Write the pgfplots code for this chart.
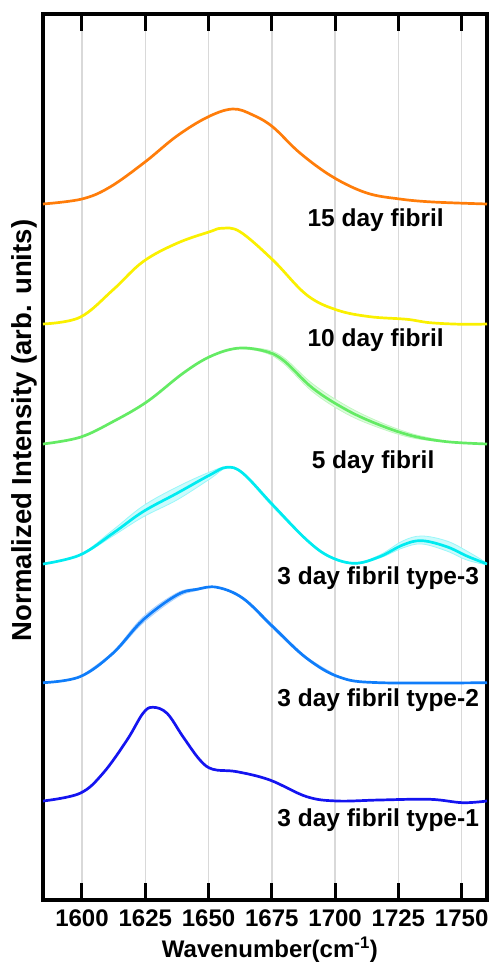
\documentclass[border=0pt]{standalone}
\usepackage{pgfplots}
\pgfplotsset{compat=1.18}
\usepackage{fontspec}
\setmainfont{Liberation Sans}
\definecolor{corange}{RGB}{255,125,10}
\definecolor{cyellow}{RGB}{250,240,0}
\definecolor{cgreen}{RGB}{100,235,100}
\definecolor{ccyan}{RGB}{0,235,240}
\definecolor{cblue}{RGB}{15,125,250}
\definecolor{cdblue}{RGB}{20,20,240}
\newcommand{\tl}[1]{\fontsize{24}{24}\selectfont\bfseries #1}
\begin{document}
\begin{tikzpicture}
\begin{axis}[
  at={(0,0)}, anchor=south west,
  scale only axis, width=444pt, height=886pt,
  xmin=1584.6, xmax=1760, ymin=0, ymax=886,
  xtick={1600,1625,1650,1675,1700,1725,1750},
  xticklabels={{\tl{1600}},{\tl{1625}},{\tl{1650}},{\tl{1675}},{\tl{1700}},{\tl{1725}},{\tl{1750}}},
  ytick=\empty,
  xtick pos=both, tick align=inside,
  major tick length=17pt,
  every tick/.style={black, line width=3pt},
  axis line style={line width=4pt},
  xmajorgrids, grid style={black!15, line width=1.4pt},
  xticklabel style={anchor=center, yshift=-18pt},
  xlabel={Wavenumber(cm\textsuperscript{-1})},
  xlabel style={font=\bfseries\fontsize{24}{24}\selectfont, at={(axis description cs:0.511,0)}, anchor=center, yshift=-50pt},
  ylabel={Normalized Intensity (arb. units)},
  ylabel style={font=\bfseries\fontsize{27.5}{27.5}\selectfont, at={(axis description cs:-0.041,0.53)}, anchor=center},
  every axis plot/.append style={line width=2.7pt, smooth, tension=0.6},
  clip=true,
]
% 15 day
\addplot[corange] coordinates {(1584.6,696) (1600,701) (1611.1,713) (1624.9,738) (1637.5,764) (1649.7,783) (1659.6,791) (1667.5,785) (1675.4,773) (1686.1,747) (1699.1,723) (1712.5,707) (1725.5,701) (1738.6,698) (1760,696)};
% 10 day
\addplot[cyellow] coordinates {(1584.6,576) (1599.2,582.7) (1612.2,610) (1624.1,638.3) (1637.5,656.7) (1650.5,668.3) (1655.3,671.7) (1662.4,668.3) (1675.4,640) (1688.8,605) (1700.7,590) (1713.7,583.3) (1728.3,580.7) (1737.4,577.3) (1750.4,575.7) (1760,576)};
% 5 day band (upper then lower reversed)
\addplot[draw=cgreen!40, line width=0.8pt, fill=cgreen!22] coordinates {(1661.2,551.7) (1671.5,551) (1679.4,543) (1691.2,516) (1704.6,494) (1717.6,478) (1730.7,466) (1744.1,458.3) (1730.7,462) (1717.6,472) (1704.6,486) (1691.2,508) (1679.4,537) (1671.5,548) (1661.2,551.7)};
\addplot[cgreen] coordinates {(1584.6,456) (1599.2,462.7) (1612.2,478.3) (1625.7,498.3) (1639.9,526.7) (1650.5,543.3) (1661.2,551.7) (1671.5,549.3) (1679.4,540) (1691.2,511.7) (1704.6,490) (1717.6,475) (1730.7,464) (1744.1,458.3) (1760,456)};
% type-3 band
\addplot[draw=ccyan!40, line width=0.8pt, fill=ccyan!20] coordinates {(1584.6,336) (1599.2,345.5) (1612.2,370) (1624.1,394) (1637.5,413) (1650.5,428) (1657.2,433) (1663.6,427) (1675.4,396) (1688.8,361) (1697.9,344) (1707.8,337) (1717.6,345) (1726.7,359) (1734.2,364) (1744.1,359) (1752,349) (1760,336) (1752,340) (1744.1,349) (1734.2,356) (1726.7,352) (1717.6,342) (1707.8,336) (1697.9,342.5) (1688.8,359) (1675.4,393) (1663.6,425.5) (1657.2,432) (1650.5,421) (1637.5,400) (1624.1,383) (1612.2,364) (1599.2,344.5) (1584.6,336)};
\addplot[ccyan] coordinates {(1584.6,336) (1599.2,345) (1612.2,366.7) (1624.1,388.3) (1637.5,406.7) (1650.5,425) (1657.2,432.7) (1663.6,426.7) (1675.4,395) (1688.8,360) (1697.9,343.3) (1707.8,336.7) (1717.6,343.3) (1726.7,355) (1734.2,359.3) (1744.1,353.3) (1752,344) (1760,336)};
% type-2 band
\addplot[draw=cblue!35, line width=0.8pt, fill=cblue!18] coordinates {(1599.2,223.3) (1612.2,248) (1624.1,283) (1637.5,307) (1645.4,311.5) (1653.3,312.7) (1663.6,302.5) (1675.4,275) (1688.8,243) (1701.9,222.7) (1688.8,240.5) (1675.4,271.5) (1663.6,300.5) (1653.3,312.7) (1645.4,309.5) (1637.5,302.5) (1624.1,277) (1612.2,245.5) (1599.2,223.3)};
\addplot[cblue] coordinates {(1584.6,217.3) (1599.2,223.3) (1612.2,246.7) (1624.1,280) (1637.5,305) (1645.4,310.7) (1653.3,312.7) (1663.6,301.7) (1675.4,273.3) (1688.8,241.7) (1701.9,222.7) (1717.6,217.3) (1760,217.3)};
% type-1
\addplot[cdblue] coordinates {(1584.6,99) (1599.2,106.7) (1608.3,126.7) (1617.8,160) (1624.1,186.7) (1628,192.7) (1633.6,186.7) (1639.9,163.3) (1646.6,140) (1651.7,130.7) (1661.2,128.3) (1674.2,120) (1688.8,103.3) (1700.7,99) (1717.6,100) (1737.4,100.7) (1750.4,97.3) (1760,99)};
% labels
\begin{scope}[every node/.style={font=\bfseries\fontsize{24.5}{24.5}\selectfont, anchor=center}]
\node at (axis cs:1716,680) {15 day fibril};
\node at (axis cs:1716,560) {10 day fibril};
\node at (axis cs:1715,438) {5 day fibril};
\node at (axis cs:1717,322) {3 day fibril type-3};
\node at (axis cs:1717,200) {3 day fibril type-2};
\node at (axis cs:1717,80) {3 day fibril type-1};
\end{scope}
\end{axis}
\pgfresetboundingbox
\path[use as bounding box] (-43pt,-69pt) rectangle (450pt,900pt);
\end{tikzpicture}
\end{document}
